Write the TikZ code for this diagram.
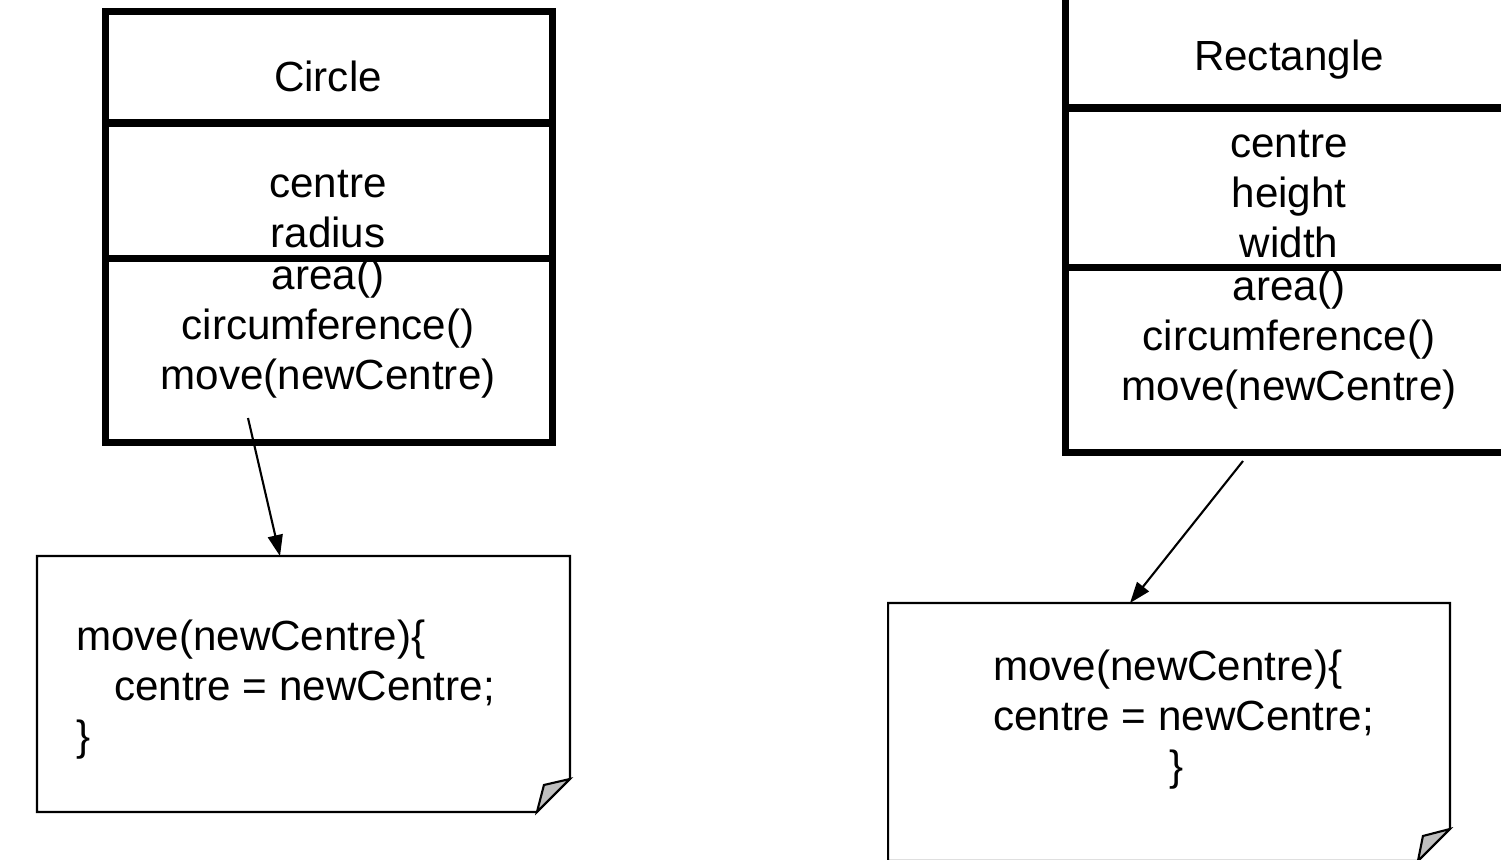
\documentclass[tikz,border=0pt]{standalone}
\usepackage{fontspec}
\setmainfont{Liberation Sans}
\usetikzlibrary{arrows.meta,positioning}

\begin{document}
\begin{tikzpicture}[x=0.02cm,y=-0.02cm,->,>={Triangle[length=0.42cm,width=0.3cm]},line width=1.2pt,
  part/.style={rectangle,draw,line width=4pt,minimum width=8.96cm,inner sep=0pt,outer sep=0pt},
  txt/.style={inner sep=0pt,align=center,font=\fontsize{24}{28.45}\selectfont},
  note/.style={rectangle,inner sep=0pt,outer sep=0pt},
  fold/.style={fill=black!25,line width=1.2pt}]
  \useasboundingbox (0,0) rectangle (1501,859);

  % Circle class
  \node[part,minimum height=2.23cm] (c1) at (329,67.25) {};
  \node[part,minimum height=2.72cm] (c2) [below=0pt of c1] {};
  \node[part,minimum height=3.68cm] (c3) [below=0pt of c2] {};
  \node[txt] (t1) at (328,76) {Circle};
  \node[txt] (a1) at (328,209) {centre\\radius};
  \node[txt] (m1) at (328,329) {area()\\circumference()\\move(newCentre)};

  % Rectangle class
  \node[part,minimum height=2.23cm] (r1) at (1289,52.25) {};
  \node[part,minimum height=3.2cm] (r2) [below=0pt of r1] {};
  \node[part,minimum height=3.7cm] (r3) [below=0pt of r2] {};
  \node[txt] (t2) at (1289,60) {Rectangle};
  \node[txt] (a2) at (1289,194) {centre\\height\\width};
  \node[txt] (m2) at (1289,340) {area()\\circumference()\\move(newCentre)};

  % notes
  \node[note,minimum width=10.66cm,minimum height=5.12cm] (n1) at (303.5,684) {};
  \draw[-] (n1.north west) -- (n1.north east) -- ([yshift=0.66cm]n1.south east)
    -- ([xshift=-0.66cm]n1.south east) -- (n1.south west) -- cycle;
  \draw[-,fold] ([yshift=0.66cm]n1.south east) -- ([xshift=-0.66cm]n1.south east)
    -- ([xshift=-0.52cm,yshift=0.54cm]n1.south east) -- cycle;
  \node[txt,align=left,anchor=west] (x1) at (75,690)
    {move(newCentre)\{\\\hspace*{0.76cm}centre = newCentre;\\\}};

  \node[note,minimum width=11.24cm,minimum height=5.16cm] (n2) at (1169,732) {};
  \draw[-] (n2.north west) -- (n2.north east) -- ([yshift=0.64cm]n2.south east)
    -- ([xshift=-0.64cm]n2.south east) -- (n2.south west) -- cycle;
  \draw[-,fold] ([yshift=0.64cm]n2.south east) -- ([xshift=-0.64cm]n2.south east)
    -- ([xshift=-0.54cm,yshift=0.5cm]n2.south east) -- cycle;
  \node[txt,align=left,anchor=west] (x2) at (992,720)
    {move(newCentre)\{\\centre = newCentre;\\\hspace*{3.52cm}\}};

  % links
  \coordinate (s1) at (248,418);
  \coordinate (s2) at (1243,461);
  \draw (s1) -- ([xshift=-0.47cm]n1.north);
  \draw (s2) -- ([xshift=-0.78cm]n2.north);
\end{tikzpicture}
\end{document}
